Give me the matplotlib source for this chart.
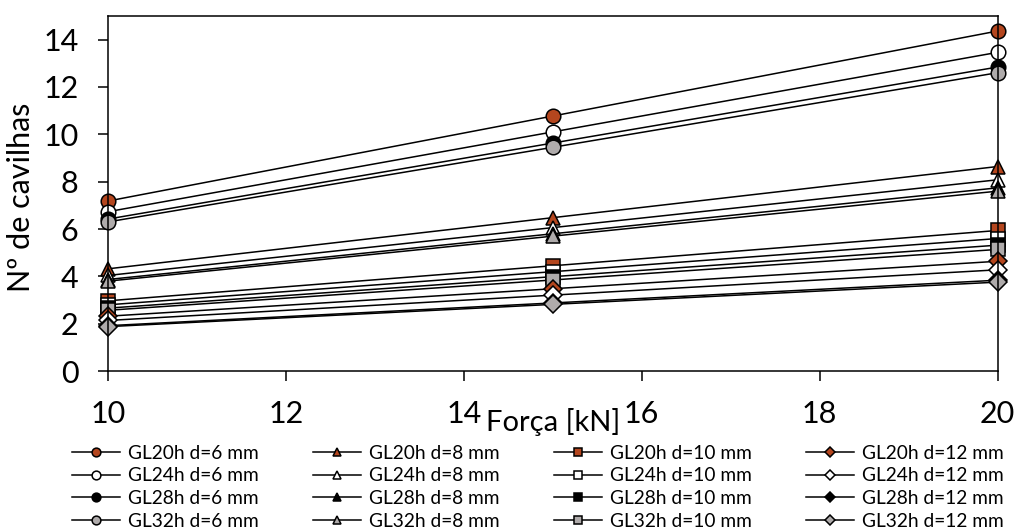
import matplotlib
matplotlib.use("Agg")
import matplotlib.pyplot as plt

plt.rcParams['font.family'] = ['Lato', 'DejaVu Sans']

# Força [kN]
forca = [10, 15, 20]

# número de cavilhas, por diâmetro e classe
d6 = {
    'GL20h': [7.18, 10.77, 14.36],
    'GL24h': [6.73, 10.10, 13.46],
    'GL28h': [6.42, 9.63, 12.84],
    'GL32h': [6.30, 9.45, 12.60],
}
d8 = {
    'GL20h': [4.32, 6.48, 8.64],
    'GL24h': [4.04, 6.06, 8.08],
    'GL28h': [3.87, 5.80, 7.74],
    'GL32h': [3.80, 5.70, 7.60],
}
d10 = {
    'GL20h': [2.97, 4.45, 5.94],
    'GL24h': [2.80, 4.20, 5.60],
    'GL28h': [2.66, 3.99, 5.32],
    'GL32h': [2.57, 3.85, 5.14],
}
d12 = {
    'GL20h': [2.32, 3.48, 4.64],
    'GL24h': [2.14, 3.21, 4.28],
    'GL28h': [1.92, 2.88, 3.84],
    'GL32h': [1.88, 2.82, 3.76],
}

cores = {'GL20h': '#B4461E', 'GL24h': 'white', 'GL28h': 'black', 'GL32h': '#AFABAB'}
grupos = [(6, d6, 'o'), (8, d8, '^'), (10, d10, 's'), (12, d12, 'D')]

fig = plt.figure(figsize=(10.16, 5.28), dpi=100)
ax = fig.add_axes([0.106, 0.297, 0.876, 0.673])

for d, serie, marc in grupos:
    ms = 9 if marc == 'D' else 10.5
    for classe, vals in serie.items():
        ax.plot(forca, vals, color='black', lw=1.1, marker=marc, ms=ms,
                mfc=cores[classe], mec='black', mew=1.1,
                label=f'{classe} d={d} mm', clip_on=False)

ax.set_xlim(10, 20)
ax.set_ylim(0, 15)
ax.set_yticks(range(0, 15, 2))
ax.set_xticks(range(10, 21, 2))
ax.tick_params(labelsize=22, width=1.1, length=7, direction='out', pad=14)
for s in ax.spines.values():
    s.set_linewidth(1.1)

ax.set_ylabel('Nº de cavilhas', fontsize=22)
ax.yaxis.set_label_coords(-0.082, 0.49)
ax.set_xlabel('Força [kN]', fontsize=21)
ax.xaxis.set_label_coords(0.5, -0.105)

ax.legend(loc='upper left', bbox_to_anchor=(0.071, 0.158),
          bbox_transform=fig.transFigure, ncol=4, frameon=False,
          fontsize=13.8, markerscale=0.6, handlelength=2.5,
          columnspacing=2.85, labelspacing=0.3, handletextpad=0.4,
          borderpad=0, borderaxespad=0)

fig.savefig('out.png', dpi=100)
